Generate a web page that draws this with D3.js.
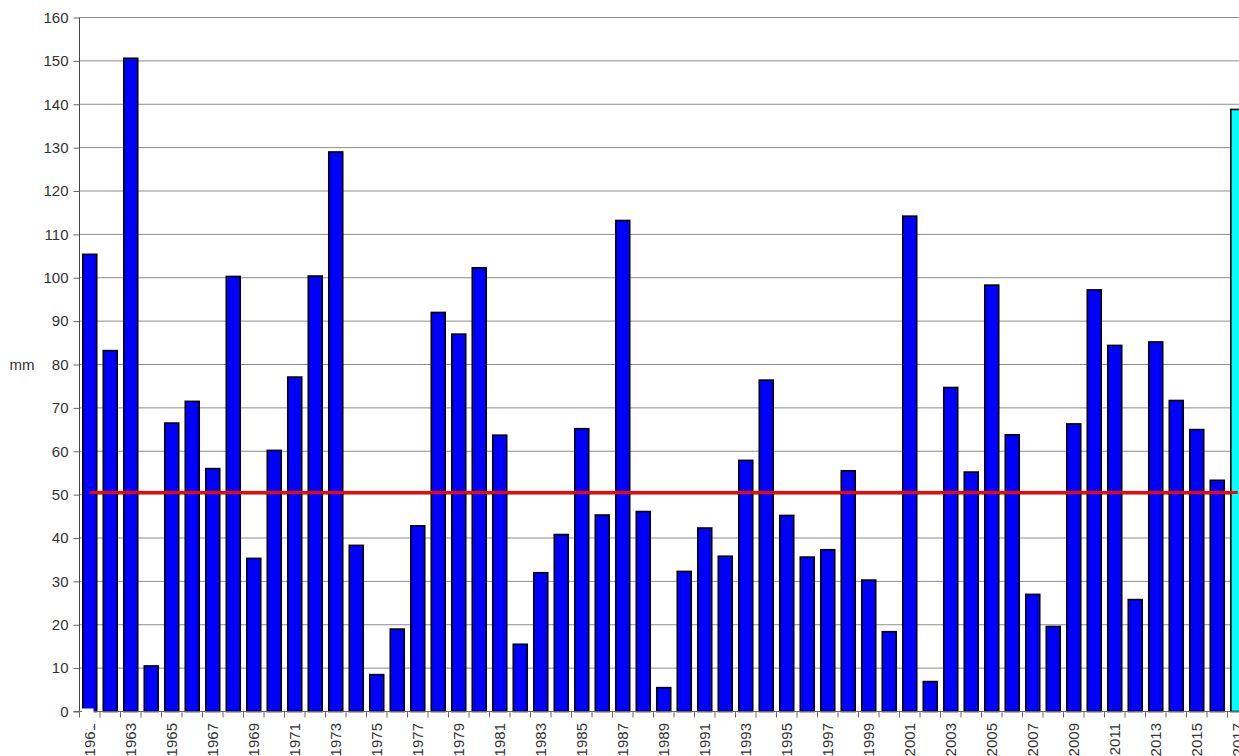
<!DOCTYPE html>
<html>
<head>
<meta charset="utf-8">
<script src="https://cdn.jsdelivr.net/npm/d3@7"></script>
<style>
  html, body { margin: 0; padding: 0; background: #fff; overflow: hidden; }
  svg { display: block; }
  text { font-family: Arial, "Liberation Sans", sans-serif; }
</style>
</head>
<body>
<svg id="chart" width="1239" height="756"></svg>
<script>
// Annual precipitation totals (mm), 1961–2017
const years = d3.range(1961, 2018);
const precipitation = [
  105.4, 83.2, 150.6, 10.5, 66.5, 71.5, 56.0, 100.3, 35.3, 60.2,
  77.1, 100.4, 129.0, 38.3, 8.5, 19.0, 42.8, 92.0, 87.0, 102.3,
  63.7, 15.5, 32.0, 40.8, 65.2, 45.3, 113.2, 46.1, 5.5, 32.3,
  42.3, 35.8, 57.9, 76.4, 45.2, 35.6, 37.3, 55.5, 30.3, 18.4,
  114.2, 6.9, 74.7, 55.2, 98.3, 63.8, 27.0, 19.6, 66.3, 97.2,
  84.4, 25.8, 85.2, 71.7, 65.0, 53.3, 138.8
];
const currentYear = 2017;
const normalValue = 50.5;
const yTicks = d3.range(0, 161, 10);
const labelYears = years.filter(y => y % 2 === 1);

const svg = d3.select("#chart");
const x0 = 79.5, x1 = 1248, yBottom = 711.5, yTop = 17.5;

const x = d3.scaleBand().domain(years).range([x0, x1]).paddingInner(0.32).paddingOuter(0.16);
const y = d3.scaleLinear().domain([0, 160]).range([yBottom, yTop]);
const step = x.step();

// horizontal gridlines
svg.append("g")
  .selectAll("line")
  .data(yTicks.filter(t => t > 0))
  .join("line")
  .attr("x1", x0).attr("x2", 1239)
  .attr("y1", d => y(d)).attr("y2", d => y(d))
  .attr("stroke", "#8c8c8c").attr("stroke-width", 1);

// bars
svg.append("g")
  .selectAll("rect")
  .data(years.map((yr, i) => ({ yr, v: precipitation[i] })))
  .join("rect")
  .attr("x", d => x(d.yr))
  .attr("width", x.bandwidth())
  .attr("y", d => y(d.v))
  .attr("height", d => y(0) - y(d.v))
  .attr("fill", d => d.yr === currentYear ? "#00ffff" : "#0000ff")
  .attr("stroke", "#000").attr("stroke-width", 1.6);

// long-term normal line
const normalLine = d3.line()
  .x(d => x(d) + x.bandwidth() / 2)
  .y(() => y(normalValue));
svg.append("path")
  .datum(years)
  .attr("d", normalLine)
  .attr("fill", "none")
  .attr("stroke", "#ff0000").attr("stroke-width", 3);

// y axis
const yAxis = svg.append("g")
  .attr("transform", `translate(${x0},0)`)
  .call(d3.axisLeft(y).tickValues(yTicks).tickSize(6).tickPadding(5).tickFormat(d3.format("d")));
yAxis.select(".domain").attr("stroke", "#444").attr("d", `M0,${yTop}V${yBottom}`);
yAxis.selectAll(".tick line").attr("stroke", "#666");
yAxis.selectAll("text").attr("font-size", 15).attr("fill", "#333")
  .attr("font-family", "Arial, 'Liberation Sans', sans-serif");

// x axis: baseline and ticks at category boundaries
const xAxis = svg.append("g");
xAxis.append("line")
  .attr("x1", x0 - 6).attr("x2", 1239)
  .attr("y1", yBottom).attr("y2", yBottom)
  .attr("stroke", "#666").attr("stroke-width", 1);
xAxis.selectAll("line.tick")
  .data(years)
  .join("line")
  .attr("class", "tick")
  .attr("x1", d => x(d) - (step - x.bandwidth()) / 2)
  .attr("x2", d => x(d) - (step - x.bandwidth()) / 2)
  .attr("y1", yBottom).attr("y2", yBottom + 6)
  .attr("stroke", "#666");

xAxis.selectAll("text")
  .data(labelYears)
  .join("text")
  .attr("transform", d => `translate(${x(d) + x.bandwidth() / 2},723) rotate(-90)`)
  .attr("text-anchor", "end")
  .attr("dy", "0.36em")
  .attr("font-size", 15)
  .attr("fill", "#333")
  .text(d => d);

// blank patch at the foot of the first column
svg.append("rect")
  .attr("x", 82).attr("y", 708.5)
  .attr("width", 11.5).attr("height", 21)
  .attr("fill", "#fff");

// unit label
svg.append("text")
  .attr("x", 22).attr("y", 365)
  .attr("text-anchor", "middle")
  .attr("dy", "0.36em")
  .attr("font-size", 15)
  .attr("fill", "#333")
  .text("mm");
</script>
</body>
</html>
